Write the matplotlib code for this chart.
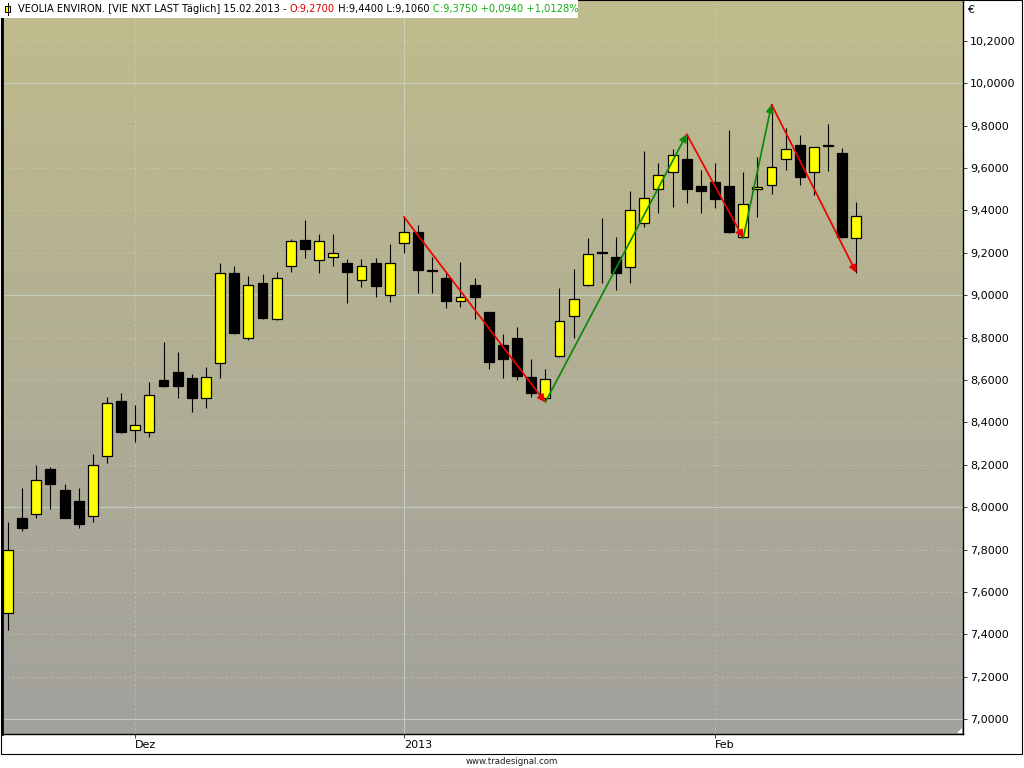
#!/usr/bin/env python3
# -*- coding: utf-8 -*-

"""
Candlestick chart VEOLIA ENVIRON. (daily), Nov 2012 - 15.02.2013,
with swing arrows in the tradesignal style.
"""

import matplotlib
matplotlib.use("Agg")
import matplotlib.pyplot as plt
import numpy as np
from matplotlib.patches import Rectangle, Polygon
from matplotlib.ticker import FuncFormatter, MultipleLocator
from matplotlib.transforms import IdentityTransform


# ============================================================
# Data
# ============================================================

aberturas = [7.50, 7.95, 7.97, 8.18, 8.08, 8.03, 7.96, 8.24, 8.50, 8.365,
             8.355, 8.60, 8.64, 8.61, 8.515, 8.68, 9.105, 8.80, 9.06, 8.89,
             9.14, 9.26, 9.165, 9.18, 9.15, 9.07, 9.15, 9.00, 9.245, 9.30,
             9.117, 9.08, 8.975, 9.05, 8.92, 8.765, 8.80, 8.615, 8.515, 8.715,
             8.90, 9.05, 9.202, 9.18, 9.135, 9.34, 9.50, 9.58, 9.645, 9.515,
             9.535, 9.515, 9.275, 9.50, 9.52, 9.645, 9.71, 9.58, 9.707, 9.67,
             9.27]
maximas = [7.93, 8.09, 8.20, 8.19, 8.11, 8.09, 8.25, 8.52, 8.54, 8.48,
           8.59, 8.78, 8.73, 8.63, 8.66, 9.15, 9.14, 9.09, 9.10, 9.11,
           9.265, 9.355, 9.29, 9.29, 9.17, 9.17, 9.175, 9.24, 9.37, 9.33,
           9.18, 9.105, 9.155, 9.08, 8.92, 8.815, 8.85, 8.70, 8.65, 9.035,
           9.125, 9.27, 9.365, 9.275, 9.49, 9.68, 9.625, 9.69, 9.76, 9.59,
           9.625, 9.78, 9.58, 9.65, 9.90, 9.79, 9.755, 9.70, 9.81, 9.695,
           9.44]
minimas = [7.42, 7.89, 7.95, 7.99, 7.95, 7.90, 7.93, 8.21, 8.35, 8.31,
           8.33, 8.565, 8.515, 8.45, 8.47, 8.61, 8.815, 8.79, 8.89, 8.885,
           9.11, 9.175, 9.105, 9.14, 8.965, 9.04, 8.99, 8.97, 9.20, 9.01,
           9.01, 8.94, 8.945, 8.89, 8.65, 8.61, 8.60, 8.52, 8.495, 8.71,
           8.80, 9.045, 9.06, 9.025, 9.06, 9.32, 9.39, 9.415, 9.435, 9.39,
           9.41, 9.295, 9.27, 9.37, 9.48, 9.59, 9.52, 9.475, 9.585, 9.27,
           9.106]
fechamentos = [7.80, 7.90, 8.13, 8.11, 7.95, 7.92, 8.20, 8.49, 8.355, 8.39,
               8.53, 8.57, 8.57, 8.515, 8.615, 9.105, 8.82, 9.05, 8.895, 9.08,
               9.255, 9.22, 9.255, 9.20, 9.11, 9.14, 9.045, 9.15, 9.30, 9.12,
               9.113, 8.975, 8.99, 8.99, 8.685, 8.70, 8.62, 8.54, 8.605, 8.88,
               8.98, 9.195, 9.198, 9.105, 9.40, 9.46, 9.565, 9.66, 9.50, 9.49,
               9.455, 9.30, 9.43, 9.51, 9.605, 9.69, 9.56, 9.70, 9.703, 9.275,
               9.375]

# swing points joined by the arrows (candle index, price)
swing_idx = [28, 38, 48, 52, 54, 60]
swing_preco = [9.37, 8.495, 9.76, 9.27, 9.90, 9.106]

# x axis: month labels at candle index
meses_idx = [9, 28, 50]
meses_rotulos = ["Dez", "2013", "Feb"]
meses_tipo = ["mes", "ano", "mes"]

titulo_pedacos = [
    ("VEOLIA ENVIRON. [VIE NXT LAST Täglich] 15.02.2013 - ", "black"),
    ("O:9,2700", "#E00000"),
    (" H:9,4400 L:9,1060 ", "black"),
    ("C:9,3750 +0,0940 +1,0128%", "#10B010"),
]


# ============================================================
# Figure
# ============================================================

W, H = 1024, 768
fig = plt.figure(figsize=(W / 100, H / 100), dpi=100, facecolor="white")
plt.rcParams["font.family"] = ["DejaVu Sans"]

# main area: pixels x 2..963, y 0..734
ax = fig.add_axes([2 / W, 34 / H, 961 / W, 734 / H])

n = len(aberturas)
x = np.arange(n)
x_min, x_max = -0.424, 67.54
y_min, y_max = 6.930, 10.393
ax.set_xlim(x_min, x_max)
ax.set_ylim(y_min, y_max)

# gradient background
topo = np.array([192, 188, 140]) / 255
base = np.array([162, 161, 157]) / 255
t = np.linspace(0, 1, 256)[:, None, None]
grad = topo * (1 - t) + base * t
ax.imshow(grad, extent=(x_min, x_max, y_min, y_max), aspect="auto",
          origin="upper", zorder=0, interpolation="bilinear")

# horizontal grid
for nivel in np.arange(7.0, 10.3, 0.2):
    if abs(nivel - round(nivel)) < 1e-6:
        ax.axhline(nivel, color="#C9D8CB", lw=0.8, alpha=0.75, zorder=1)
    else:
        ax.axhline(nivel, color="#D8D6C0", lw=0.7, ls=(0, (2, 3)),
                   alpha=0.5, zorder=1)

# vertical grid
for idx, tipo in zip(meses_idx, meses_tipo):
    if tipo == "ano":
        ax.axvline(idx, color="#C9D8CB", lw=0.8, alpha=0.75, zorder=1)
    else:
        ax.axvline(idx, color="#D8D6C0", lw=0.7, ls=(0, (2, 3)),
                   alpha=0.5, zorder=1)

# candles
abre = np.array(aberturas)
fecha = np.array(fechamentos)
ax.vlines(x, minimas, maximas, color="black", lw=0.8, zorder=2)
cores = ["#FFFF00" if c >= o else "black" for o, c in zip(abre, fecha)]
corpo_base = np.minimum(abre, fecha)
corpo_alt = np.abs(fecha - abre)
ax.bar(x, corpo_alt, bottom=corpo_base, width=0.7, color=cores,
       edgecolor="black", linewidth=0.9, zorder=3)

# swing arrows
for i in range(len(swing_idx) - 1):
    p0 = (swing_idx[i], swing_preco[i])
    p1 = (swing_idx[i + 1], swing_preco[i + 1])
    cor = "#EE0000" if p1[1] < p0[1] else "#0A8A0A"
    ax.annotate("", xy=p1, xytext=p0, zorder=4,
                arrowprops=dict(arrowstyle="-|>", color=cor, lw=1.25,
                                mutation_scale=11, shrinkA=0, shrinkB=0))

# axes styling
ax.spines["top"].set_visible(False)
ax.spines["left"].set_linewidth(2.0)
ax.spines["bottom"].set_linewidth(1.0)
ax.spines["right"].set_linewidth(1.0)

ax.yaxis.tick_right()
ax.yaxis.set_major_locator(MultipleLocator(0.2))
ax.yaxis.set_major_formatter(FuncFormatter(lambda v, p: f"{v:.4f}".replace(".", ",")))
ax.tick_params(axis="y", direction="out", length=3, width=0.7, color="#404040",
               labelsize=8, pad=2)

ax.set_xticks(meses_idx)
ax.set_xticklabels(meses_rotulos)
ax.tick_params(axis="x", direction="out", length=3, width=0.7, color="#404040",
               labelsize=8, pad=1)
for lbl in ax.get_xticklabels():
    lbl.set_horizontalalignment("left")

# resize corner glyph
fig.add_artist(Polygon([[957, 768 - 733], [962, 768 - 733], [962, 768 - 728]],
                       closed=True, transform=IdentityTransform(),
                       facecolor="white", edgecolor="none"))

# outer frame (chart + axis panels)
fig.add_artist(Rectangle((0.5, 768 - 754), 1021.5, 754, transform=IdentityTransform(),
                         fill=False, edgecolor="black", lw=0.8))

# euro sign on the price axis
fig.text(967 / W, 1 - 10 / H, "€", fontsize=8, va="center", ha="left")

# watermark
fig.text(512 / W, 1 - 761 / H, "www.tradesignal.com", fontsize=6.2,
         color="#202020", ha="center", va="center")

# header with white box
fig.add_artist(Rectangle((0, 768 - 18), 578, 18, transform=IdentityTransform(),
                         facecolor="white", edgecolor="none", zorder=5))
fig.add_artist(Rectangle((5, 768 - 12), 5, 6, transform=IdentityTransform(),
                         facecolor="#FFFF00", edgecolor="black", lw=0.7, zorder=6))
fig.add_artist(plt.Line2D([7.5, 7.5], [768 - 15, 768 - 3], transform=IdentityTransform(),
                          color="black", lw=0.7, zorder=6))

fig.canvas.draw()
renderer = fig.canvas.get_renderer()
pos_x = 18
for texto, cor in titulo_pedacos:
    txt = fig.text(pos_x, 768 - 9, texto, color=cor, fontsize=7.1,
                   va="center", ha="left", transform=IdentityTransform(), zorder=7)
    pos_x = txt.get_window_extent(renderer).x1

fig.savefig("out.png", dpi=100, facecolor="white")
